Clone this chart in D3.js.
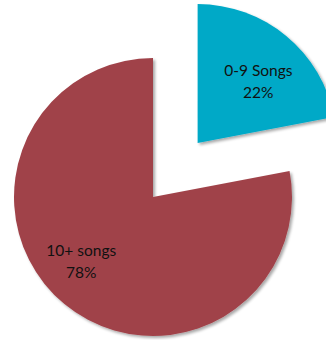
<!DOCTYPE html>
<html>
<head>
<meta charset="utf-8">
<script src="https://cdn.jsdelivr.net/npm/d3@7"></script>
<style>
  html, body { margin: 0; padding: 0; background: #ffffff; }
  svg { display: block; }
</style>
</head>
<body>
<div id="chart"></div>
<script>
// Song-count share
const categories = ["0-9 Songs", "10+ songs"];
const shares = [22, 78];
const percentLabels = ["22%", "78%"];
const sliceColors = ["#00A9C7", "#A0434A"];
const explodeOffsets = [70, 0];

const width = 326, height = 340;
const cx = 153, cy = 197, radius = 139;
// small per-slice label nudges off the arc centroid
const labelNudge = [[4, 4], [-15, -7]];

const svg = d3.select("#chart").append("svg")
  .attr("width", width)
  .attr("height", height);

const defs = svg.append("defs");
const shadow = defs.append("filter")
  .attr("id", "slice-shadow")
  .attr("x", "-10%").attr("y", "-10%")
  .attr("width", "130%").attr("height", "130%");
shadow.append("feGaussianBlur").attr("in", "SourceAlpha").attr("stdDeviation", 1.5).attr("result", "blur");
shadow.append("feOffset").attr("in", "blur").attr("dx", 1.5).attr("dy", 1.5).attr("result", "off");
shadow.append("feComponentTransfer").attr("in", "off").attr("result", "soft")
  .append("feFuncA").attr("type", "linear").attr("slope", 0.35);
const merge = shadow.append("feMerge");
merge.append("feMergeNode").attr("in", "soft");
merge.append("feMergeNode").attr("in", "SourceGraphic");

const data = categories.map((c, i) => ({
  category: c, value: shares[i], pct: percentLabels[i],
  color: sliceColors[i], offset: explodeOffsets[i], nudge: labelNudge[i]
}));

const pie = d3.pie().value(d => d.value).sort(null);
const arc = d3.arc().innerRadius(0).outerRadius(radius);
const labelArc = d3.arc().innerRadius(radius * 0.64).outerRadius(radius * 0.64);

const arcs = pie(data);

const g = svg.append("g").attr("transform", `translate(${cx},${cy})`);

const slices = g.selectAll("g.slice")
  .data(arcs)
  .join("g")
  .attr("class", "slice")
  .attr("transform", d => {
    const mid = (d.startAngle + d.endAngle) / 2;
    const dx = Math.sin(mid) * d.data.offset;
    const dy = -Math.cos(mid) * d.data.offset;
    return `translate(${dx},${dy})`;
  });

slices.append("path")
  .attr("d", arc)
  .attr("fill", d => d.data.color)
  .attr("filter", "url(#slice-shadow)");

const labels = slices.append("text")
  .attr("transform", d => {
    const [x, y] = labelArc.centroid(d);
    return `translate(${x + d.data.nudge[0]},${y + d.data.nudge[1]})`;
  })
  .attr("text-anchor", "middle")
  .attr("font-family", "Lato, 'Open Sans', sans-serif")
  .attr("font-size", 15.5)
  .attr("fill", "#111111");

labels.append("tspan")
  .attr("x", 0).attr("dy", "-0.15em")
  .text(d => d.data.category);
labels.append("tspan")
  .attr("x", 0).attr("dy", "1.42em")
  .text(d => d.data.pct);
</script>
</body>
</html>
